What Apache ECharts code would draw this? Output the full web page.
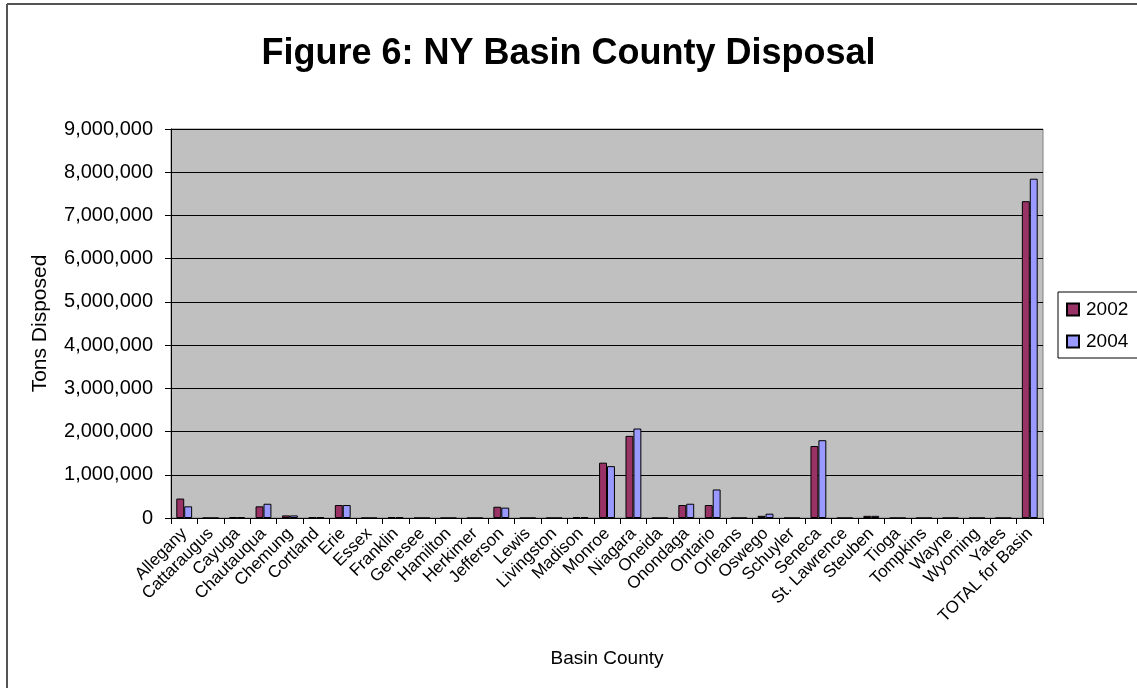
<!DOCTYPE html>
<html>
<head>
<meta charset="utf-8">
<title>Figure 6: NY Basin County Disposal</title>
<script src="https://cdn.jsdelivr.net/npm/echarts@6/dist/echarts.min.js"></script>
<style>
    html, body { margin: 0; padding: 0; background: #fff; }
    #chart { width: 1137px; height: 688px; }
</style>
</head>
<body>
<div id="chart"></div>
<script>
    // counties along the x axis
    var counties = ['Allegany', 'Cattaraugus', 'Cayuga', 'Chautauqua', 'Chemung', 'Cortland', 'Erie', 'Essex',
        'Franklin', 'Genesee', 'Hamilton', 'Herkimer', 'Jefferson', 'Lewis', 'Livingston', 'Madison', 'Monroe',
        'Niagara', 'Oneida', 'Onondaga', 'Ontario', 'Orleans', 'Oswego', 'Schuyler', 'Seneca', 'St. Lawrence',
        'Steuben', 'Tioga', 'Tompkins', 'Wayne', 'Wyoming', 'Yates', 'TOTAL for Basin'];

    // tons disposed
    var tons2002 = [450000, 0, 20000, 270000, 60000, 20000, 300000, 0,
        20000, 0, 0, 0, 260000, 0, 0, 20000, 1280000,
        1900000, 0, 300000, 300000, 0, 50000, 0, 1665000, 0,
        50000, 0, 0, 0, 0, 0, 7330000];
    var tons2004 = [270000, 0, 20000, 330000, 60000, 20000, 300000, 0,
        20000, 0, 0, 0, 240000, 0, 0, 20000, 1200000,
        2070000, 0, 330000, 660000, 0, 100000, 0, 1800000, 0,
        50000, 0, 0, 0, 0, 0, 7850000];

    var seriesNames = ['2002', '2004'];
    var seriesColors = ['#993366', '#9999FF'];

    var font = 'Liberation Sans, Arial, sans-serif';

    var chart = echarts.init(document.getElementById('chart'));
    chart.setOption({
        animation: false,
        textStyle: {fontFamily: font, color: '#000'},
        title: {
            text: 'Figure 6: NY Basin County Disposal',
            left: 'center',
            top: 31,
            textStyle: {fontFamily: font, fontSize: 36, fontWeight: 'bold', color: '#000'}
        },
        // outer frame of the chart area (only top and left are visible)
        graphic: [
            {type: 'line', shape: {x1: 7, y1: 4, x2: 1137, y2: 4}, style: {stroke: '#555', lineWidth: 2}},
            {type: 'line', shape: {x1: 7, y1: 4, x2: 7, y2: 688}, style: {stroke: '#555', lineWidth: 2}}
        ],
        legend: {
            orient: 'vertical',
            left: 1058,
            top: 292,
            padding: [8, 40, 7, 8],
            itemGap: 13,
            itemWidth: 12,
            itemHeight: 12,
            icon: 'rect',
            borderColor: '#000',
            borderWidth: 1,
            textStyle: {fontFamily: font, fontSize: 19, color: '#000', padding: [0, 0, 0, 2]},
            data: seriesNames
        },
        grid: {
            left: 171,
            right: 94,
            top: 129,
            bottom: 170,
            show: true,
            backgroundColor: '#C0C0C0',
            borderColor: '#808080',
            borderWidth: 1
        },
        xAxis: {
            type: 'category',
            data: counties,
            name: 'Basin County',
            nameLocation: 'middle',
            nameGap: 131,
            nameTextStyle: {fontFamily: font, fontSize: 19, color: '#000'},
            axisLine: {lineStyle: {color: '#000', width: 1}},
            axisTick: {show: true, alignWithLabel: false, length: 6, lineStyle: {color: '#000'}},
            axisLabel: {
                interval: 0,
                rotate: 45,
                margin: 13,
                fontFamily: font,
                fontSize: 17,
                color: '#000'
            }
        },
        yAxis: {
            type: 'value',
            min: 0,
            max: 9000000,
            interval: 1000000,
            name: 'Tons Disposed',
            nameLocation: 'middle',
            nameGap: 120,
            nameTextStyle: {fontFamily: font, fontSize: 21, color: '#000'},
            axisLine: {show: true, lineStyle: {color: '#000', width: 1}},
            axisTick: {show: true, length: 6, lineStyle: {color: '#000'}},
            splitLine: {show: true, lineStyle: {color: '#000', width: 1}},
            axisLabel: {
                margin: 18,
                fontFamily: font,
                fontSize: 20,
                color: '#000',
                formatter: function (v) {
                    return v.toLocaleString('en-US');
                }
            }
        },
        series: [
            {
                name: seriesNames[0],
                type: 'bar',
                data: tons2002,
                barGap: '0%',
                barCategoryGap: '40%',
                itemStyle: {color: seriesColors[0], borderColor: '#000', borderWidth: 1}
            },
            {
                name: seriesNames[1],
                type: 'bar',
                data: tons2004,
                itemStyle: {color: seriesColors[1], borderColor: '#000', borderWidth: 1}
            }
        ]
    });
</script>
</body>
</html>
